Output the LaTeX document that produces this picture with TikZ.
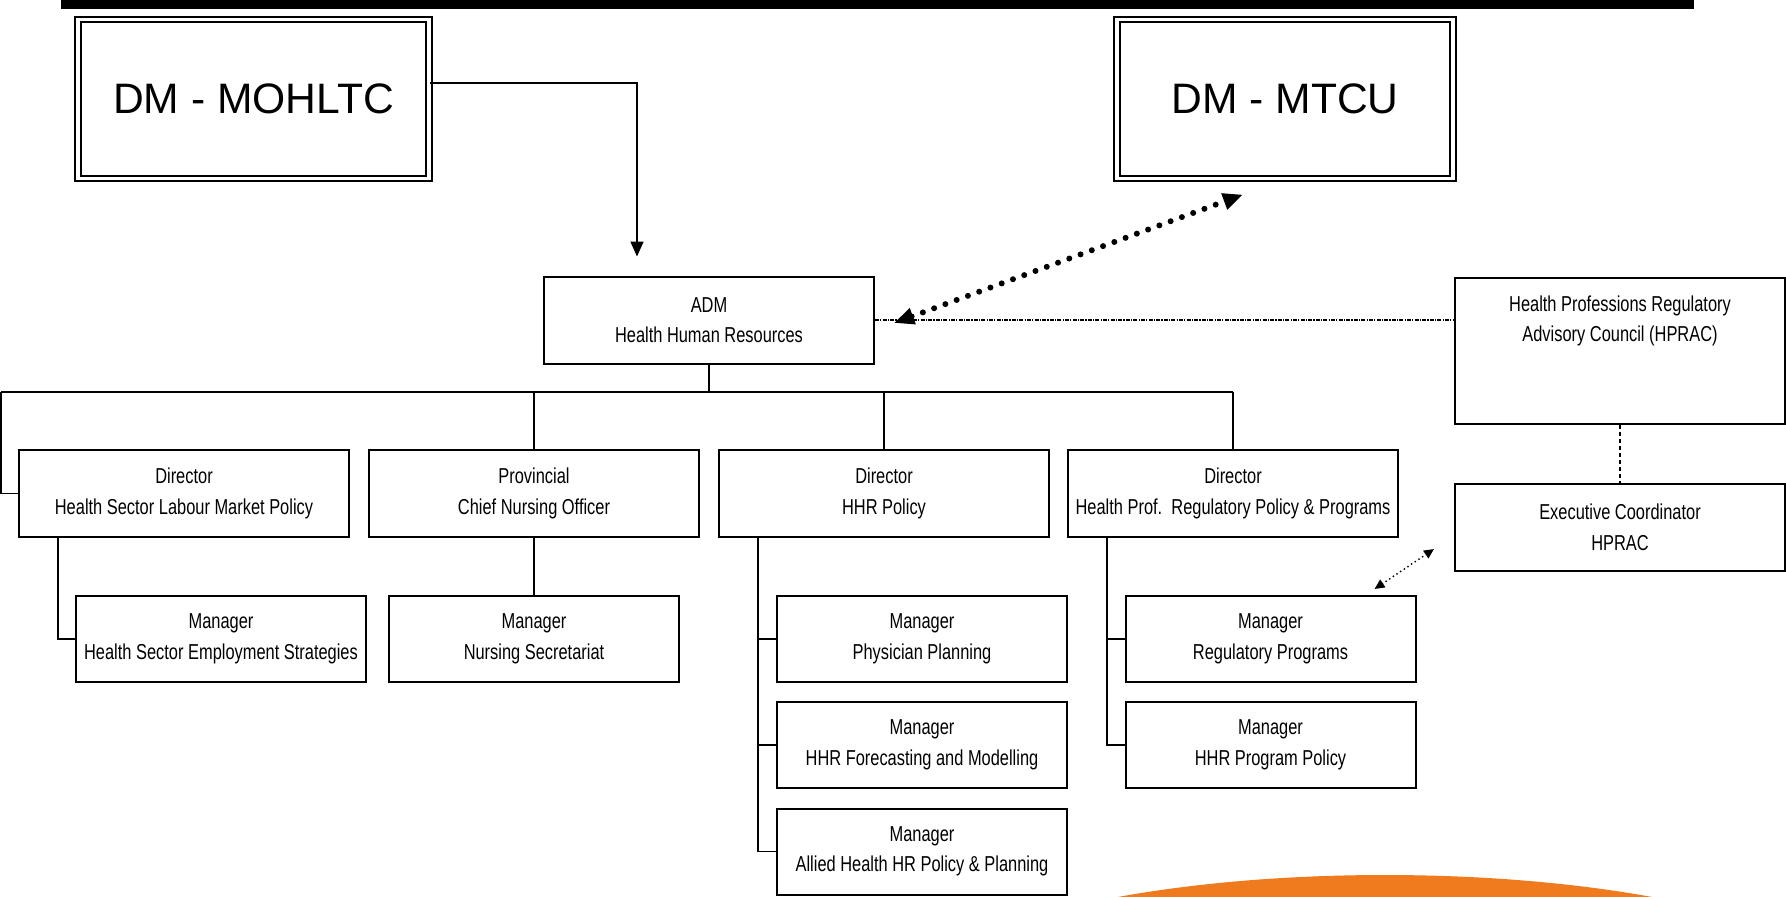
\documentclass[tikz,border=0pt]{standalone}
\usepackage{fontspec}
\setmainfont{Liberation Sans}
\newfontfamily\narrowfont[FakeStretch=0.76]{Liberation Sans}
\usetikzlibrary{arrows.meta}
\newcommand{\orgfont}{\narrowfont\fontsize{10.8}{15.25}\selectfont}
\newcommand{\dmfont}{\fontsize{21.3}{25}\selectfont}
\definecolor{swoosh}{RGB}{240,122,30}

\begin{document}
\begin{tikzpicture}[x=0.5pt, y=-0.5pt]
\tikzset{
	unit/.style={draw, line width=1pt, minimum width=165pt, minimum height=43.5pt, inner sep=2pt, align=center, font=\orgfont},
	mgr/.style={unit, minimum width=145pt, minimum height=43pt},
	dmbox/.style={draw, double, line width=1.1pt, double distance=1.6pt, minimum height=79.5pt, font=\dmfont},
	link/.style={line width=0.8pt},
	bigdots/.style={line width=3pt, line cap=round, dash pattern=on 0pt off 6pt},
	smalldots/.style={line width=1pt, line cap=round, dash pattern=on 0pt off 2.2pt}
}
\useasboundingbox (0,0) rectangle (1786,896);
\fill (61,0) rectangle (1694,9);

% deputy ministers
\node[dmbox, minimum width=175.5pt] (mohltc) at (253.5,99) {DM - MOHLTC};
\node[dmbox, minimum width=168pt] (mtcu) at (1285,99) {DM - MTCU};

\node[unit] (adm) at (709,320) {ADM\\Health Human Resources};
\node[unit, anchor=north, minimum height=73pt, text height=29.8pt, text depth=39pt] (hprac) at (1620,277) {Health Professions Regulatory\\Advisory Council (HPRAC)};
\node[unit] (exec) at (1620,527.5) {Executive Coordinator\\HPRAC};

% directors
\node[unit] (dir1) at (184,493.5) {Director\\Health Sector Labour Market Policy};
\node[unit] (dir2) at (534,493.5) {Provincial\\Chief Nursing Officer};
\node[unit] (dir3) at (884,493.5) {Director\\HHR Policy};
\node[unit] (dir4) at (1233,493.5) {Director\\Health Prof.\ \ Regulatory Policy \& Programs};

% managers
\node[mgr] (mhses) at (221,639) {Manager\\Health Sector Employment Strategies};
\node[mgr] (mnurse) at (534,639) {Manager\\Nursing Secretariat};
\node[mgr] (mphys) at (922,639) {Manager\\Physician Planning};
\node[mgr] (mfore) at (922,745) {Manager\\HHR Forecasting and Modelling};
\node[mgr] (mallied) at (922,851.5) {Manager\\Allied Health HR Policy \& Planning};
\node[mgr] (mreg) at (1270.5,639) {Manager\\Regulatory Programs};
\node[mgr] (mprog) at (1270.5,745) {Manager\\HHR Program Policy};

\draw[link, -{Triangle[length=7.5pt,width=6.5pt]}] ([yshift=8pt]mohltc.east) -| ([xshift=-36pt,yshift=9.5pt]adm.north);
\draw[bigdots, {Triangle[length=10pt,width=8pt]}-{Triangle[length=10pt,width=8pt]}]
	([xshift=9.5pt,yshift=-1.5pt]adm.east) -- ([xshift=-21pt,yshift=-7.5pt]mtcu.south);
\draw[line width=0.9pt, dash pattern=on 2pt off 0.6pt on 0.6pt off 0.6pt] (adm.east) -- (adm.east -| hprac.west);
\draw[line width=0.6pt, dash pattern=on 2pt off 1.5pt] (hprac.south) -- (exec.north);
\draw[smalldots, {Triangle[length=5pt,width=4.5pt]}-{Triangle[length=5pt,width=4.5pt]}]
	([xshift=-21pt,yshift=3pt]mreg.north east) -- ([xshift=-10pt,yshift=11.5pt]exec.south west);

% bus under the ADM
\coordinate (busL) at (1,392);
\coordinate (busR) at (1233,392);
\draw[link] (adm.south) -- (adm.south |- busR);
\draw[link] (busL) -- (busR);
\draw[link] (busL) |- (dir1.west);
\foreach \d in {dir2,dir3,dir4}
	\draw[link] (\d.north |- busR) -- (\d.north);

\draw[link] ([xshift=20pt]dir1.south west) |- (mhses.west);
\draw[link] (dir2.south) -- (mnurse.north);
\foreach \m in {mphys,mfore,mallied}
	\draw[link] ([xshift=20pt]dir3.south west) |- (\m.west);
\foreach \m in {mreg,mprog}
	\draw[link] ([xshift=20pt]dir4.south west) |- (\m.west);

\begin{scope}
\clip (0,0) rectangle (1786,896);
\fill[swoosh] (1385,1005) ellipse [x radius=240pt, y radius=65pt];
\end{scope}
\end{tikzpicture}
\end{document}
